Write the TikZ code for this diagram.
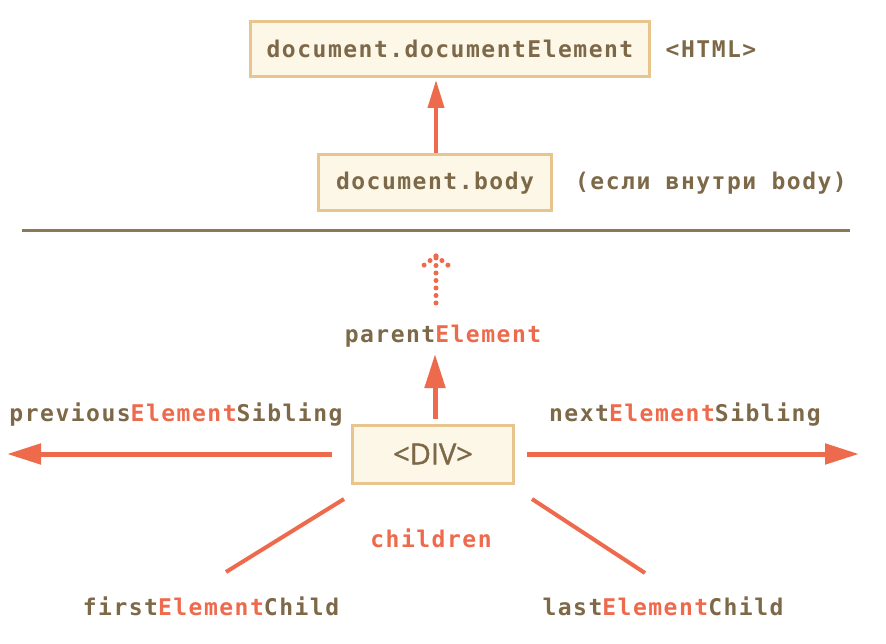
\documentclass[tikz,border=0pt]{standalone}
\usepackage{fontspec}
\usetikzlibrary{arrows.meta}
\newfontfamily\codefont[LetterSpace=6.5]{DejaVu Sans Mono Bold}
\newfontfamily\divfont[FakeBold=1.2]{Open Sans}
\definecolor{txtbrown}{RGB}{125,105,72}
\definecolor{hot}{RGB}{238,106,77}
\definecolor{boxfill}{RGB}{253,247,232}
\definecolor{boxline}{RGB}{232,197,143}
\definecolor{rulecol}{RGB}{139,120,90}
\tikzset{
  lbl/.style={inner sep=0pt, text=txtbrown, font=\codefont\fontsize{23}{23}\selectfont},
  hotlbl/.style={lbl, text=hot},
  elbox/.style={draw=boxline, fill=boxfill, line width=3pt, inner sep=0pt, text=txtbrown},
  bigarrow/.style={draw=hot, line width=5pt, -{Triangle[length=34pt,width=20pt]}},
  midarrow/.style={draw=hot, line width=4pt, -{Triangle[length=28pt,width=16pt]}},
  childline/.style={draw=hot, line width=4pt},
  dots/.style={draw=hot, line width=5pt, line cap=round, dash pattern=on 0pt off 7.5pt},
}
\newcommand{\hl}[1]{\textcolor{hot}{#1}}
\begin{document}
\begin{tikzpicture}[x=1pt,y=-1pt]
\useasboundingbox (0,0) rectangle (886,644);
% top boxes
\node[elbox, minimum width=399pt, minimum height=55pt, font=\codefont\fontsize{23}{23}\selectfont] (docel) at (450,49) {document.documentElement};
\node[lbl] (html) at (711,49) {<HTML>};
\node[elbox, minimum width=233pt, minimum height=56pt, font=\codefont\fontsize{23}{23}\selectfont] (body) at (435,183) {document.body};
\node[lbl] (esli) at (711,183) {(если внутри body)};
\draw[midarrow] (body.north -| 436,0) -- (436,80);
% separator
\coordinate (sepL) at (22,231);
\coordinate (sepR) at (850,231);
\draw[rulecol, line width=3pt] (sepL) -- (sepR);
% dotted arrow
\coordinate (dotbot) at (436,303);
\coordinate (dottip) at (436,256);
\coordinate (dotl) at (419,269);
\coordinate (dotr) at (453,269);
\draw[dots] (dotbot) -- (dottip);
\draw[dots] (dottip) -- (dotl);
\draw[dots] (dottip) -- (dotr);
% DIV
\node[elbox, minimum width=161pt, minimum height=58pt, font=\divfont\fontsize{29}{29}\selectfont] (div) at (433,454) {<DIV>};
\node[lbl] (parent) at (443,336) {parent\hl{Element}};
\draw[bigarrow] (435,419) -- (435,354);
\node[lbl] (prev) at (176,415) {previous\hl{Element}Sibling};
\node[lbl] (next) at (685,415) {next\hl{Element}Sibling};
\coordinate (leftend) at (7,454);
\coordinate (rightend) at (859,454);
\draw[bigarrow] (332,454) -- (leftend);
\draw[bigarrow] (527,454) -- (rightend);
% children
\node[hotlbl] (children) at (431,538) {children};
\coordinate (c1a) at (344,499);
\coordinate (c1b) at (226,572);
\coordinate (c2a) at (532,499);
\coordinate (c2b) at (645,573);
\draw[childline] (c1a) -- (c1b);
\draw[childline] (c2a) -- (c2b);
\node[lbl] (first) at (211,606) {first\hl{Element}Child};
\node[lbl] (last) at (663,606) {last\hl{Element}Child};
\end{tikzpicture}
\end{document}
